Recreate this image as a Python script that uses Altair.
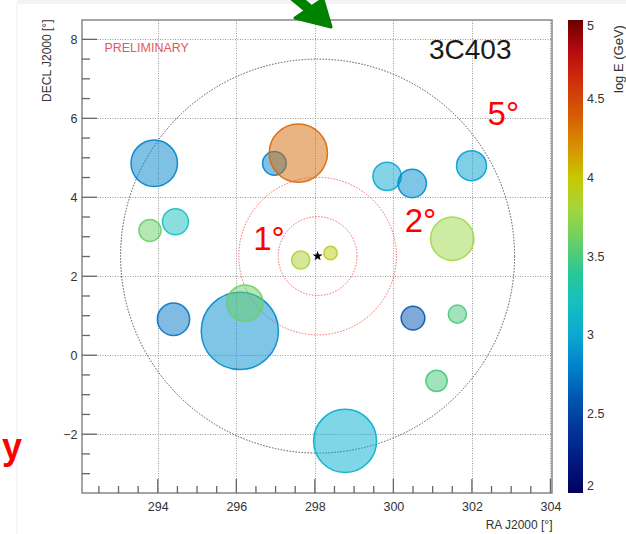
import altair as alt
import pandas as pd

F = "Liberation Sans"

# ---------------- data ----------------
bub_ra   = [296.09, 293.91, 296.97, 297.58, 293.80, 294.45, 299.84, 300.48, 301.99,
            301.50, 297.64, 298.40, 296.22, 294.40, 300.50, 301.63, 301.10, 298.77]
bub_dec  = [0.615, 4.86, 4.86, 5.12, 3.16, 3.38, 4.53, 4.35, 4.80,
            2.95, 2.41, 2.59, 1.32, 0.91, 0.94, 1.04, -0.65, -2.17]
bub_r    = [0.98, 0.59, 0.30, 0.74, 0.28, 0.33, 0.36, 0.36, 0.38,
            0.55, 0.23, 0.17, 0.46, 0.41, 0.30, 0.23, 0.27, 0.80]
bub_loge = [2.85, 2.8, 2.8, 4.35, 3.6, 3.2, 3.0, 2.85, 2.95,
            3.75, 3.85, 3.95, 3.6, 2.75, 2.6, 3.5, 3.5, 3.05]

src_ra = [298.07]
src_dec = [2.51]

ring_r = [1, 2, 5]
ring_col = ["#ff6060", "#ff6060", "#505050"]

x_major = [294, 296, 298, 300, 302, 304]
y_major = [-2, 0, 2, 4, 6, 8]
x_minor = [292.5, 293, 293.5, 294.5, 295, 295.5, 296.5, 297, 297.5, 298.5, 299,
           299.5, 300.5, 301, 301.5, 302.5, 303, 303.5]
y_minor = [-3, -2.5, -1.5, -1, -0.5, 0.5, 1, 1.5, 2.5, 3, 3.5, 4.5,
           5, 5.5, 6.5, 7, 7.5]

cbar_ticks = [2, 2.5, 3, 3.5, 4, 4.5, 5]
c_stops = [2, 2.25, 2.5, 2.75, 3, 3.25, 3.5, 3.75, 4, 4.25, 4.5, 4.75, 5]
c_colors = ["#000060", "#00208a", "#0840a0", "#0476c8", "#0ca8d0", "#2cc4b8",
            "#46c87a", "#9cd848", "#c8c800", "#d88010", "#d04008", "#cc1010", "#6a0000"]

deg_text = ["1°", "2°", "5°"]
deg_x = [296.43, 300.29, 302.40]
deg_y = [2.67, 3.11, 5.83]

bub = pd.DataFrame({"ra": bub_ra, "dec": bub_dec, "r": bub_r, "e": bub_loge,
                    "k": list(range(len(bub_ra)))})
src = pd.DataFrame({"ra": src_ra, "dec": src_dec})
rings = pd.DataFrame({"r": ring_r, "c": ring_col, "ra": src_ra * 3, "dec": src_dec * 3})
degs = pd.DataFrame({"t": deg_text, "x": deg_x, "y": deg_y})
xmaj = pd.DataFrame({"v": x_major})
ymaj = pd.DataFrame({"v": y_major})
xmin = pd.DataFrame({"v": x_minor})
ymin = pd.DataFrame({"v": y_minor})
one = pd.DataFrame({"a": [0]})

PX = 39.4  # pixels per degree
xs = alt.Scale(domain=[292.07, 304.04], nice=False, zero=False)
ys = alt.Scale(domain=[-3.49, 8.49], nice=False, zero=False)
cs = alt.Scale(type="linear", domain=c_stops, range=c_colors)
# same palette for outlines (extra stop beyond the data keeps its legend separate)
cs_stroke = alt.Scale(type="linear", domain=c_stops + [6], range=c_colors + [c_colors[-1]])
ss = alt.Scale(type="pow", exponent=2, domain=[0, 5], range=[0, (2 * PX * 5) ** 2])

STAR = ("M0,-1L0.235,-0.324L0.951,-0.309L0.380,0.124L0.588,0.809L0,0.4"
        "L-0.588,0.809L-0.380,0.124L-0.951,-0.309L-0.235,-0.324Z")
HEAD = "M-0.97,0.15L0.67,0.56L0.30,-0.71Z"

ax_x = alt.Axis(values=x_major, orient="bottom", ticks=False, domain=False,
                grid=True, gridColor="#9a9a9a", gridDash=[1, 1.5], gridWidth=1,
                labelPadding=7, format="d", labelFont=F, labelFontSize=12.5,
                labelColor="#333333", titleFont=F, titleFontSize=12,
                titleFontWeight="normal", titleColor="#333333", titleAlign="right",
                titleBaseline="alphabetic", titleX=470, titleY=35)
ax_y = alt.Axis(values=y_major, orient="left", ticks=False, domain=False,
                grid=True, gridColor="#9a9a9a", gridDash=[1, 1.5], gridWidth=1,
                labelPadding=5, format="d", labelFont=F, labelFontSize=12.5,
                labelColor="#333333", titleFont=F, titleFontSize=12,
                titleFontWeight="normal", titleColor="#333333", titleAngle=270,
                titleAlign="right", titleBaseline="alphabetic", titleX=-32, titleY=-1)

leg = alt.Legend(type="gradient", orient="none", legendX=486, legendY=0,
                 direction="vertical", gradientLength=473, gradientThickness=15,
                 values=cbar_ticks, format="~g", labelFont=F, labelFontSize=12.5,
                 labelColor="#333333", labelOffset=4, gradientStrokeWidth=0)

TC = "#666666"

# slide remnants
strip = alt.Chart(one).mark_rect(color="#f3f3f3").encode(
    x=alt.value(-65), x2=alt.value(544), y=alt.value(-20), y2=alt.value(-16))
vline = alt.Chart(one).mark_rule(color="#eeeeee", strokeWidth=1).encode(
    x=alt.value(-65), y=alt.value(-16), y2=alt.value(514))

ring_layer = alt.Chart(rings).mark_point(filled=False, strokeDash=[1.5, 1.5], strokeWidth=1,
                                         opacity=1).encode(
    x=alt.X("ra:Q", scale=xs, axis=ax_x, title="RA J2000 [°]"),
    y=alt.Y("dec:Q", scale=ys, axis=ax_y, title="DECL J2000 [°]"),
    size=alt.Size("r:Q", scale=ss, legend=None),
    stroke=alt.Stroke("c:N", scale=None),
)

# inward ticks
xt_major = alt.Chart(xmaj).mark_rule(color=TC, strokeWidth=1.3).encode(
    x=alt.X("v:Q", scale=xs), y=alt.value(473), y2=alt.value(459))
xt_minor = alt.Chart(xmin).mark_rule(color=TC, strokeWidth=1.3).encode(
    x=alt.X("v:Q", scale=xs), y=alt.value(473), y2=alt.value(466))
yt_major = alt.Chart(ymaj).mark_rule(color=TC, strokeWidth=1.3).encode(
    y=alt.Y("v:Q", scale=ys), x=alt.value(0), x2=alt.value(15))
yt_minor = alt.Chart(ymin).mark_rule(color=TC, strokeWidth=1.3).encode(
    y=alt.Y("v:Q", scale=ys), x=alt.value(0), x2=alt.value(8))

bub_layer = alt.Chart(bub).mark_circle(fillOpacity=0.5, strokeOpacity=0.9, strokeWidth=1.5).encode(
    x=alt.X("ra:Q", scale=xs),
    y=alt.Y("dec:Q", scale=ys),
    size=alt.Size("r:Q", scale=ss, legend=None),
    fill=alt.Fill("e:Q", scale=cs, title=None, legend=leg),
    stroke=alt.Stroke("e:Q", scale=cs_stroke, legend=None),
    order="k:Q",
)

star_layer = alt.Chart(src).mark_point(shape=STAR, filled=True, color="black", size=110,
                                       opacity=1).encode(
    x=alt.X("ra:Q", scale=xs),
    y=alt.Y("dec:Q", scale=ys),
)

prelim = alt.Chart(one).mark_text(text="PRELIMINARY", align="left", baseline="alphabetic",
                                  font=F, fontSize=12.5, color="#e05a5a").encode(
    x=alt.datum(292.64, scale=xs), y=alt.datum(7.69, scale=ys))

name = alt.Chart(one).mark_text(text="3C403", align="left", baseline="alphabetic",
                                font=F, fontSize=28, color="#1a1a1a").encode(
    x=alt.datum(300.906, scale=xs), y=alt.datum(7.49, scale=ys))

deg_layer = alt.Chart(degs).mark_text(align="left", baseline="alphabetic", font=F,
                                      fontSize=33, color="#ff0000").encode(
    x=alt.X("x:Q", scale=xs), y=alt.Y("y:Q", scale=ys), text="t:N")

arrow_shaft = alt.Chart(one).mark_rule(color="#008200", strokeWidth=10, strokeCap="butt").encode(
    x=alt.value(197), y=alt.value(-36), x2=alt.value(227), y2=alt.value(-11))
arrow_head = alt.Chart(one).mark_point(
    shape=HEAD, filled=True, fill="#008200", stroke="#008200",
    strokeWidth=3, strokeJoin="round", size=1936, opacity=1).encode(
    x=alt.value(234.3), y=alt.value(-5.3))

red_y = alt.Chart(one).mark_text(text="y", align="left", baseline="alphabetic", font=F,
                                 fontSize=36, fontWeight="bold", color="#ff0000").encode(
    x=alt.value(-80), y=alt.value(439))

cbar_title = alt.Chart(one).mark_text(text="log    E (GeV)", align="left", baseline="middle",
                                      angle=270, font=F, fontSize=13, color="#333333").encode(
    x=alt.value(537), y=alt.value(73))

chart = alt.layer(
    strip, vline, ring_layer, xt_major, xt_minor, yt_major, yt_minor,
    bub_layer, star_layer, prelim, name, deg_layer,
    arrow_shaft, arrow_head, red_y, cbar_title
).properties(
    width=470, height=473,
    padding={"left": 82, "top": 20, "right": 74, "bottom": 41},
    autosize=alt.AutoSizeParams(type="none"),
    background="white",
).configure_view(stroke="#888888", strokeWidth=1.5)

chart.save("out.html", embed_options={"renderer": "svg", "actions": False})
